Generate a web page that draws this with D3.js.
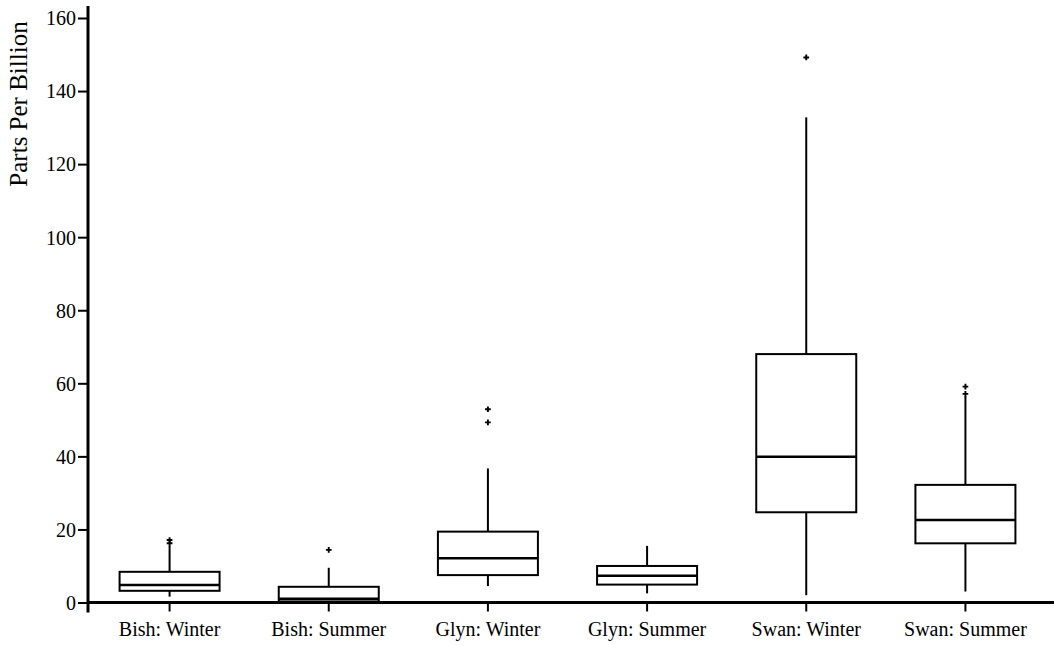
<!DOCTYPE html>
<html>
<head>
<meta charset="utf-8">
<script src="https://cdn.jsdelivr.net/npm/d3@7"></script>
<style>
  html, body { margin: 0; padding: 0; background: #fff; }
  svg { display: block; }
  svg text { font-family: "Liberation Serif", "Times New Roman", serif !important; fill: #000; }
</style>
</head>
<body>
<svg id="chart" width="1054" height="646"></svg>
<script>
// ---- data ----
const categories = ["Bish: Winter", "Bish: Summer", "Glyn: Winter", "Glyn: Summer", "Swan: Winter", "Swan: Summer"];
const whiskerLow  = [1.6, 0.0, 4.5, 2.5, 2.0, 3.0];
const q1          = [3.2, 0.3, 7.5, 4.9, 24.7, 16.2];
const median      = [4.8, 1.0, 12.1, 7.3, 39.9, 22.6];
const q3          = [8.4, 4.3, 19.4, 10.0, 68.0, 32.2];
const whiskerHigh = [15.5, 9.5, 36.7, 15.5, 132.8, 56.5];
const outliers    = [[16.2, 17.1], [14.4], [49.3, 52.9], [], [149.2], [57.1, 59.1]];
const yTicks      = [0, 20, 40, 60, 80, 100, 120, 140, 160];
const yLabel      = "Parts Per Billion";

// ---- layout ----
const serif = '"Liberation Serif", "Times New Roman", serif';
const svg = d3.select("#chart");
const axisX = 88;
const y = d3.scaleLinear().domain([0, 160]).range([602.5, 18]);
const x = d3.scaleBand().domain(categories).range([90, 1045]);
const boxW = 100;

const boxes = categories.map((c, i) => ({
  c, lo: whiskerLow[i], q1: q1[i], med: median[i], q3: q3[i], hi: whiskerHigh[i], out: outliers[i]
}));

// y axis
const yAxis = d3.axisLeft(y).tickValues(yTicks).tickSize(10).tickPadding(2).tickSizeOuter(0);
const gy = svg.append("g").attr("transform", `translate(${axisX},0)`).call(yAxis)
  .attr("font-family", serif).attr("font-size", 20);
gy.select(".domain").remove();
gy.selectAll(".tick line").attr("stroke", "#000").attr("stroke-width", 2);
gy.selectAll(".tick text").style("font-family", serif).style("font-size", "20px").attr("dy", "0.34em");

// x axis
const xAxis = d3.axisBottom(x).tickSize(9).tickPadding(10).tickSizeOuter(0);
const gx = svg.append("g").attr("transform", `translate(0,${y(0)})`).call(xAxis)
  .attr("font-family", serif).attr("font-size", 20);
gx.select(".domain").remove();
gx.selectAll(".tick line").attr("stroke", "#000").attr("stroke-width", 2);
gx.selectAll(".tick text").style("font-family", serif).style("font-size", "20px");

// axis lines
svg.append("line").attr("x1", axisX).attr("x2", axisX).attr("y1", 6).attr("y2", y(0) + 10)
  .attr("stroke", "#000").attr("stroke-width", 3);
svg.append("line").attr("x1", axisX - 1).attr("x2", 1054).attr("y1", y(0)).attr("y2", y(0))
  .attr("stroke", "#000").attr("stroke-width", 3);

// y label
svg.append("text")
  .attr("transform", `translate(27,${104}) rotate(-90)`)
  .attr("text-anchor", "middle")
  .style("font-family", serif)
  .style("font-size", "25px")
  .text(yLabel);

// boxes
const g = svg.append("g");
boxes.forEach(b => {
  const cx = x(b.c) + x.bandwidth() / 2;
  g.append("line").attr("x1", cx).attr("x2", cx).attr("y1", y(b.q3)).attr("y2", y(b.hi))
    .attr("stroke", "#000").attr("stroke-width", 2);
  g.append("line").attr("x1", cx).attr("x2", cx).attr("y1", y(b.q1)).attr("y2", y(b.lo))
    .attr("stroke", "#000").attr("stroke-width", 2);
  g.append("rect").attr("x", cx - boxW / 2).attr("width", boxW)
    .attr("y", y(b.q3)).attr("height", y(b.q1) - y(b.q3))
    .attr("fill", "#fff").attr("stroke", "#000").attr("stroke-width", 2);
  g.append("line").attr("x1", cx - boxW / 2).attr("x2", cx + boxW / 2)
    .attr("y1", y(b.med)).attr("y2", y(b.med))
    .attr("stroke", "#000").attr("stroke-width", 2.5);
  b.out.forEach(v => {
    g.append("path").attr("d", d3.symbol(d3.symbolCross, 18)())
      .attr("transform", `translate(${cx},${y(v)})`)
      .attr("fill", "#000");
  });
});
</script>
</body>
</html>
